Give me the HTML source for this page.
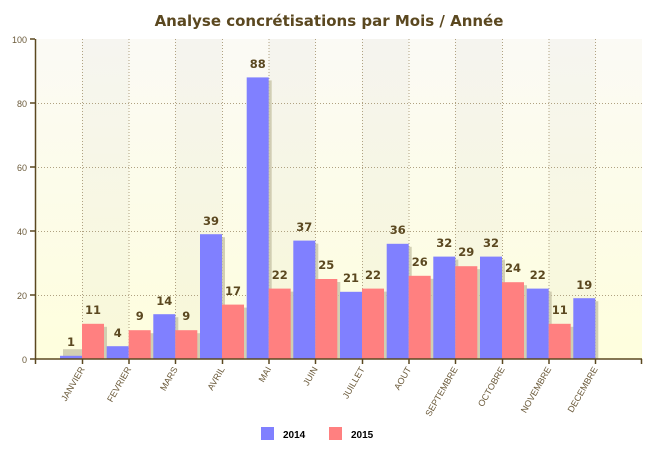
<!DOCTYPE html>
<html><head><meta charset="utf-8"><style>
html,body{margin:0;padding:0;background:#fff;}
svg{display:block;font-family:"Liberation Sans",sans-serif;}
</style></head><body>
<svg width="657" height="455" viewBox="0 0 657 455">
<defs>
<linearGradient id="bg" x1="0" y1="0" x2="0" y2="1">
<stop offset="0" stop-color="#fbfaf5"/><stop offset="1" stop-color="#fefedd"/>
</linearGradient>
</defs>
<text x="329" y="26" text-anchor="middle" font-size="15" font-weight="bold" fill="#5b4820" font-family="DejaVu Sans,sans-serif">Analyse concrétisations par Mois / Année</text>
<rect x="35" y="39" width="607" height="320" fill="url(#bg)"/>
<g fill="#000" opacity="0.018">
<rect x="82" y="39" width="46.7" height="320"/><rect x="175.3" y="39" width="46.7" height="320"/><rect x="268.7" y="39" width="46.7" height="320"/><rect x="362" y="39" width="46.7" height="320"/><rect x="455.3" y="39" width="46.7" height="320"/><rect x="548.7" y="39" width="46.7" height="320"/>
</g>
<g stroke="#b0a282" stroke-width="1" stroke-dasharray="1,2">
<line x1="35" y1="295.5" x2="642" y2="295.5"/><line x1="35" y1="231.5" x2="642" y2="231.5"/><line x1="35" y1="167.5" x2="642" y2="167.5"/><line x1="35" y1="103.5" x2="642" y2="103.5"/>
<line x1="82.5" y1="39" x2="82.5" y2="359"/><line x1="129" y1="39" x2="129" y2="359"/><line x1="175.5" y1="39" x2="175.5" y2="359"/><line x1="222.5" y1="39" x2="222.5" y2="359"/><line x1="269" y1="39" x2="269" y2="359"/><line x1="315.5" y1="39" x2="315.5" y2="359"/><line x1="362.5" y1="39" x2="362.5" y2="359"/><line x1="409" y1="39" x2="409" y2="359"/><line x1="455.5" y1="39" x2="455.5" y2="359"/><line x1="502.5" y1="39" x2="502.5" y2="359"/><line x1="549" y1="39" x2="549" y2="359"/><line x1="595.5" y1="39" x2="595.5" y2="359"/>
</g>
<g fill="#c8c4a8" opacity="0.8">
<rect x="63" y="349.2" width="22" height="9.8"/><rect x="156.3" y="317.2" width="22" height="41.8"/><rect x="203" y="237.2" width="22" height="121.8"/><rect x="249.7" y="80.4" width="22" height="278.6"/><rect x="296.3" y="243.6" width="22" height="115.4"/><rect x="343" y="294.8" width="22" height="64.2"/><rect x="389.7" y="246.8" width="22" height="112.2"/><rect x="436.3" y="259.6" width="22" height="99.4"/><rect x="483" y="259.6" width="22" height="99.4"/><rect x="529.7" y="291.6" width="22" height="67.4"/><rect x="576.3" y="301.2" width="22" height="57.8"/>
<rect x="85" y="326.8" width="22" height="32.2"/><rect x="131.7" y="333.2" width="22" height="25.8"/><rect x="178.3" y="333.2" width="22" height="25.8"/><rect x="225" y="307.6" width="22" height="51.4"/><rect x="271.7" y="291.6" width="22" height="67.4"/><rect x="318.3" y="282" width="22" height="77"/><rect x="365" y="291.6" width="22" height="67.4"/><rect x="411.7" y="278.8" width="22" height="80.2"/><rect x="458.3" y="269.2" width="22" height="89.8"/><rect x="505" y="285.2" width="22" height="73.8"/><rect x="551.7" y="326.8" width="22" height="32.2"/>
</g>
<g fill="#8080ff">
<rect x="60" y="355.8" width="22" height="3.2"/><rect x="106.7" y="346.2" width="22" height="12.8"/><rect x="153.3" y="314.2" width="22" height="44.8"/><rect x="200" y="234.2" width="22" height="124.8"/><rect x="246.7" y="77.4" width="22" height="281.6"/><rect x="293.3" y="240.6" width="22" height="118.4"/><rect x="340" y="291.8" width="22" height="67.2"/><rect x="386.7" y="243.8" width="22" height="115.2"/><rect x="433.3" y="256.6" width="22" height="102.4"/><rect x="480" y="256.6" width="22" height="102.4"/><rect x="526.7" y="288.6" width="22" height="70.4"/><rect x="573.3" y="298.2" width="22" height="60.8"/>
</g>
<g fill="#ff8080">
<rect x="82" y="323.8" width="22" height="35.2"/><rect x="128.7" y="330.2" width="22" height="28.8"/><rect x="175.3" y="330.2" width="22" height="28.8"/><rect x="222" y="304.6" width="22" height="54.4"/><rect x="268.7" y="288.6" width="22" height="70.4"/><rect x="315.3" y="279" width="22" height="80"/><rect x="362" y="288.6" width="22" height="70.4"/><rect x="408.7" y="275.8" width="22" height="83.2"/><rect x="455.3" y="266.2" width="22" height="92.8"/><rect x="502" y="282.2" width="22" height="76.8"/><rect x="548.7" y="323.8" width="22" height="35.2"/>
</g>
<g font-size="11.5" font-weight="bold" fill="#5b4820" text-anchor="middle" font-family="DejaVu Sans,sans-serif">
<text x="71" y="346">1</text><text x="117.7" y="337">4</text><text x="164.3" y="305">14</text><text x="211" y="225">39</text><text x="257.7" y="68">88</text><text x="304.3" y="231">37</text><text x="351" y="282">21</text><text x="397.7" y="234">36</text><text x="444.3" y="247">32</text><text x="491" y="247">32</text><text x="537.7" y="279">22</text><text x="584.3" y="289">19</text>
<text x="93" y="314">11</text><text x="139.7" y="320">9</text><text x="186.3" y="320">9</text><text x="233" y="295">17</text><text x="279.7" y="279">22</text><text x="326.3" y="269">25</text><text x="373" y="279">22</text><text x="419.7" y="266">26</text><text x="466.3" y="256">29</text><text x="513" y="272">24</text><text x="559.7" y="314">11</text>
</g>
<g stroke="#5b4820" stroke-width="1.5" fill="none">
<line x1="35.5" y1="39" x2="35.5" y2="364"/><line x1="35" y1="359" x2="642" y2="359"/>
<line x1="30" y1="39" x2="35" y2="39"/><line x1="30" y1="103" x2="35" y2="103"/><line x1="30" y1="167" x2="35" y2="167"/><line x1="30" y1="231" x2="35" y2="231"/><line x1="30" y1="295" x2="35" y2="295"/><line x1="30" y1="359" x2="35" y2="359"/>
<line x1="82.5" y1="359" x2="82.5" y2="364"/><line x1="129" y1="359" x2="129" y2="364"/><line x1="175.5" y1="359" x2="175.5" y2="364"/><line x1="222.5" y1="359" x2="222.5" y2="364"/><line x1="269" y1="359" x2="269" y2="364"/><line x1="315.5" y1="359" x2="315.5" y2="364"/><line x1="362.5" y1="359" x2="362.5" y2="364"/><line x1="409" y1="359" x2="409" y2="364"/><line x1="455.5" y1="359" x2="455.5" y2="364"/><line x1="502.5" y1="359" x2="502.5" y2="364"/><line x1="549" y1="359" x2="549" y2="364"/><line x1="595.5" y1="359" x2="595.5" y2="364"/><line x1="641.5" y1="359" x2="641.5" y2="364"/>
</g>
<g font-size="9" fill="#6b5a3a" text-anchor="end">
<text x="27" y="43">100</text><text x="27" y="107">80</text><text x="27" y="171">60</text><text x="27" y="235">40</text><text x="27" y="299">20</text><text x="27" y="363">0</text>
</g>
<g font-size="9" fill="#6b5a3a" text-anchor="end">
<text transform="translate(85,369) rotate(-60)">JANVIER</text>
<text transform="translate(131.5,369) rotate(-60)">FEVRIER</text>
<text transform="translate(178,369) rotate(-60)">MARS</text>
<text transform="translate(225,369) rotate(-60)">AVRIL</text>
<text transform="translate(271.5,369) rotate(-60)">MAI</text>
<text transform="translate(318,369) rotate(-60)">JUIN</text>
<text transform="translate(365,369) rotate(-60)">JUILLET</text>
<text transform="translate(411.5,369) rotate(-60)">AOUT</text>
<text transform="translate(458,369) rotate(-60)">SEPTEMBRE</text>
<text transform="translate(505,369) rotate(-60)">OCTOBRE</text>
<text transform="translate(551.5,369) rotate(-60)">NOVEMBRE</text>
<text transform="translate(598,369) rotate(-60)">DECEMBRE</text>
</g>
<rect x="261" y="427" width="13" height="13" fill="#8080ff"/>
<text x="283" y="438" font-size="10" font-weight="bold" fill="#000">2014</text>
<rect x="329" y="427" width="13" height="13" fill="#ff8080"/>
<text x="351" y="438" font-size="10" font-weight="bold" fill="#000">2015</text>
</svg>
</body></html>
